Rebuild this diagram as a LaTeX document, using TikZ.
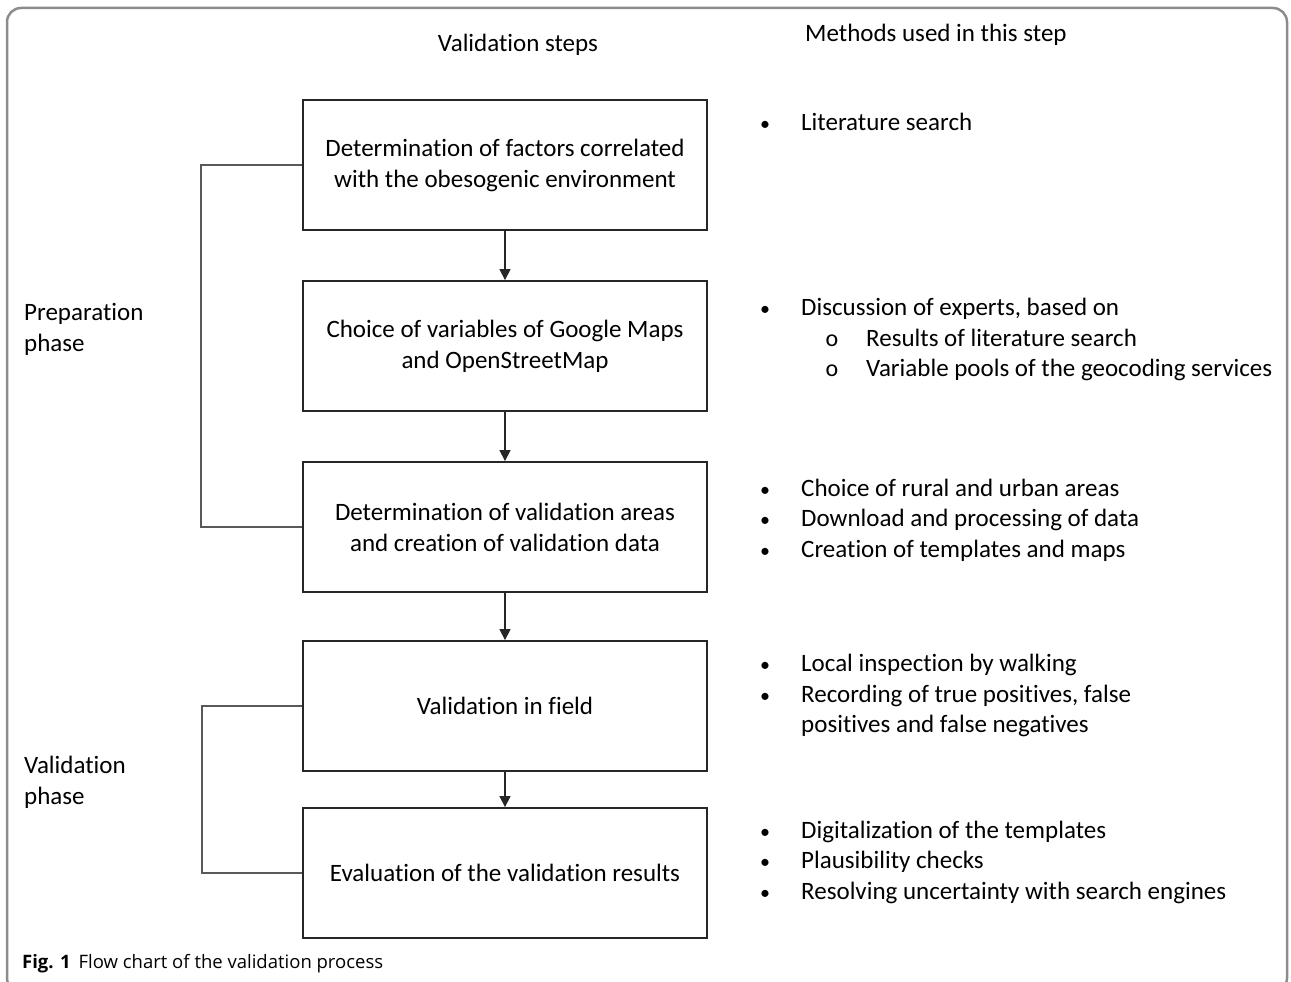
\documentclass[tikz,border=0pt]{standalone}
\usepackage{fontspec}
\setmainfont{Carlito}[Ligatures=NoCommon]
\newfontfamily\capfont{Open Sans}
\usetikzlibrary{arrows.meta}
\begin{document}
\begin{tikzpicture}[x=1pt,y=-1pt,
 stepbox/.style={draw=black!85, line width=1.8pt, minimum width=404pt, minimum height=130pt, align=center, inner sep=0pt, font=\fontsize{25}{31}\selectfont},
 txt/.style={anchor=base west, inner sep=0pt, font=\fontsize{25}{31}\selectfont},
 lbl/.style={anchor=west, align=left, inner sep=0pt, font=\fontsize{25}{31}\selectfont},
 bul/.style={anchor=base, inner sep=0pt, font=\fontsize{20}{31}\selectfont},
 subbul/.style={anchor=base, inner sep=0pt, font=\fontsize{24}{31}\selectfont},
 flow/.style={-{Triangle[length=11pt,width=11pt]}, line width=1.2pt, draw=black!85},
 bracketline/.style={line width=1.5pt, draw=black!65}
]
\useasboundingbox (0,0) rectangle (1291,982);
\draw[black!45, line width=2.5pt, rounded corners=14pt] (7,8) rectangle (1287,992);

% headers
\node[inner sep=0pt, font=\fontsize{25}{31}\selectfont] (h1) at (518,45) {Validation steps};
\node[lbl] (h2) at (805,35) {Methods used in this step};

% steps
\node[stepbox] (s1) at (505,165) {Determination of factors correlated\\with the obesogenic environment};
\node[stepbox] (s2) at (505,346) {Choice of variables of Google Maps\\and OpenStreetMap};
\node[stepbox] (s3) at (505,527) {Determination of validation areas\\and creation of validation data};
\node[stepbox] (s4) at (505,706) {Validation in field};
\node[stepbox] (s5) at (505,873) {Evaluation of the validation results};

\draw[flow] (s1) -- (s2);
\draw[flow] (s2) -- (s3);
\draw[flow] (s3) -- (s4);
\draw[flow] (s4) -- (s5);

% brackets
\draw[bracketline] (s1.west) -- ++(-101,0) |- (s3.west);
\draw[bracketline] (s4.west) -- ++(-100,0) |- (s5.west);

\node[lbl] (pp) at (24,329) {Preparation\\phase};
\node[lbl] (vp) at (24,782) {Validation\\phase};

% methods
\node[bul] (b1) at (765,130) {•};
\node[txt] (m1) at (801,130) {Literature search};

\node[bul] (b2) at (765,315) {•};
\node[txt] (m2) at (801,315) {Discussion of experts, based on};
\node[subbul] (b2a) at (832,346) {o};
\node[txt] (m2a) at (866,346) {Results of literature search};
\node[subbul] (b2b) at (832,376) {o};
\node[txt] (m2b) at (866,376) {Variable pools of the geocoding services};

\node[bul] (b3) at (765,496) {•};
\node[txt] (m3) at (801,496) {Choice of rural and urban areas};
\node[bul] (b4) at (765,526) {•};
\node[txt] (m4) at (801,526) {Download and processing of data};
\node[bul] (b5) at (765,557) {•};
\node[txt] (m5) at (801,557) {Creation of templates and maps};

\node[bul] (b6) at (765,671) {•};
\node[txt] (m6) at (801,671) {Local inspection by walking};
\node[bul] (b7) at (765,702) {•};
\node[txt] (m7) at (801,702) {Recording of true positives, false};
\node[txt] (m7b) at (801,732) {positives and false negatives};

\node[bul] (b8) at (765,838) {•};
\node[txt] (m8) at (801,838) {Digitalization of the templates};
\node[bul] (b9) at (765,868) {•};
\node[txt] (m9) at (801,868) {Plausibility checks};
\node[bul] (b10) at (765,899) {•};
\node[txt] (m10) at (801,899) {Resolving uncertainty with search engines};

% caption
\node[anchor=base west, inner sep=0pt, font=\capfont\fontsize{18.5}{22}\selectfont] (cap) at (22,968) {\textbf{Fig. 1}\hspace{8pt}Flow chart of the validation process};
\end{tikzpicture}
\end{document}
